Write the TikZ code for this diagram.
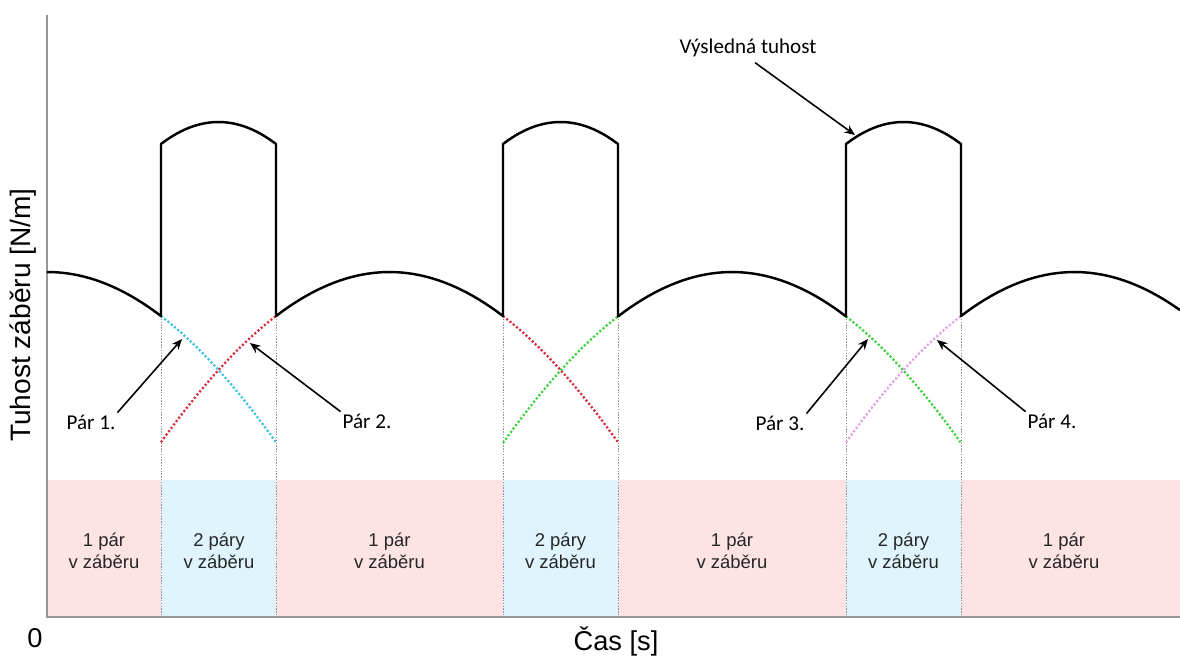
\documentclass[tikz,border=0pt]{standalone}
\usepackage{fontspec}
\setmainfont{Liberation Sans}
\newfontfamily\calibri{Carlito}
\usetikzlibrary{arrows.meta}

\definecolor{jedenpar}{RGB}{253,227,228}
\definecolor{dvapary}{RGB}{223,244,252}
\definecolor{osa}{RGB}{150,150,150}
\definecolor{par1}{RGB}{60,195,225}
\definecolor{par2}{RGB}{215,45,60}
\definecolor{par3}{RGB}{60,210,60}
\definecolor{par4}{RGB}{225,160,230}

% tuhost jednoho paru zubu (stred #1) a soucet dvou paru (stred #1)
\newcommand{\jeden}[1]{272+490*(1-cos(0.2156*(\x-#1)))}
\newcommand{\dva}[1]{122+22*((\x-#1)/57.5)^2}

\begin{document}
\begin{tikzpicture}[x=0.02cm, y=-0.02cm,
	vysledna/.style={line width=1.4pt, line join=round},
	krivka/.style={line width=1.3pt, dash pattern=on 1.2pt off 1.2pt},
	hranice/.style={osa, line width=0.5pt, dash pattern=on 0.8pt off 0.8pt},
	popis/.style={font=\fontsize{10.5}{12.5}\selectfont, align=center, text=black!85},
	parlabel/.style={font=\calibri\fontsize{12}{14}\selectfont, inner sep=1pt},
	sipka/.style={-{Stealth[length=6pt, width=5pt]}, line width=0.9pt}]
	\useasboundingbox (0,0) rectangle (1180,657);
	
	% pasy poctu paru v zaberu
	\foreach \a/\b/\barva in {47/161/jedenpar, 161/276/dvapary, 276/503/jedenpar,
		503/618/dvapary, 618/846/jedenpar, 846/961/dvapary, 961/1180/jedenpar}{
		\fill[\barva] (\a,480) rectangle (\b,617);
	}
	
	% hranice oblasti
	\foreach \x in {161, 276, 503, 618, 846, 961}{
		\draw[hranice] (\x,316) -- (\x,617);
	}
	
	% osy
	\draw[osa, line width=1.1pt] (47,15) -- (47,617) -- (1180,617);
	\node (nula) at (35,638) {\fontsize{15.5}{18}\selectfont 0};
	\node (cas) at (616,641) {\fontsize{15.5}{18}\selectfont Čas [s]};
	\node[rotate=90] (tuhost) at (23,315) {\fontsize{16}{19}\selectfont Tuhost záběru [N/m]};
	
	% tuhosti jednotlivych paru
	\draw[krivka, par1] plot[domain=161:276, samples=30] (\x,{\jeden{47.5}});
	\draw[krivka, par2] plot[domain=161:276, samples=30] (\x,{\jeden{389.5}});
	\draw[krivka, par2] plot[domain=503:618, samples=30] (\x,{\jeden{389.5}});
	\draw[krivka, par3] plot[domain=503:618, samples=30] (\x,{\jeden{732}});
	\draw[krivka, par3] plot[domain=846:961, samples=30] (\x,{\jeden{732}});
	\draw[krivka, par4] plot[domain=846:961, samples=30] (\x,{\jeden{1074.5}});
	
	% vysledna tuhost
	\draw[vysledna] plot[domain=47:161, samples=30] (\x,{\jeden{47.5}})
		-- plot[domain=161:276, samples=30] (\x,{\dva{218.5}})
		-- plot[domain=276:503, samples=40] (\x,{\jeden{389.5}})
		-- plot[domain=503:618, samples=30] (\x,{\dva{560.5}})
		-- plot[domain=618:846, samples=40] (\x,{\jeden{732}})
		-- plot[domain=846:961, samples=30] (\x,{\dva{903.5}})
		-- plot[domain=961:1180, samples=40] (\x,{\jeden{1074.5}});
	
	% popisy pasu
	\foreach \x/\n/\txt in {104/b1/1 pár, 219/b2/2 páry, 389.5/b3/1 pár, 560.5/b4/2 páry,
		732/b5/1 pár, 903.5/b6/2 páry, 1064/b7/1 pár}{
		\node[popis] (\n) at (\x,551) {\txt\\v záběru};
	}
	
	% popisy paru se sipkami
	\node[parlabel] (p1) at (91,422) {Pár 1.};
	\node[parlabel] (p2) at (367,421) {Pár 2.};
	\node[parlabel] (p3) at (780,423) {Pár 3.};
	\node[parlabel] (p4) at (1052,421) {Pár 4.};
	\node[parlabel] (vysl) at (748,48) {Výsledná tuhost};
	\coordinate (t1) at (182,339);
	\coordinate (t2) at (250,343);
	\coordinate (t3) at (868,339);
	\coordinate (t4) at (937,340);
	\coordinate (tv) at (855,135);
	\draw[sipka] (p1.north east) -- (t1);
	\draw[sipka] (p2.north west) -- (t2);
	\draw[sipka] (p3.north east) -- (t3);
	\draw[sipka] (p4.north west) -- (t4);
	\draw[sipka] ([xshift=4pt,yshift=-2pt]vysl.south) -- (tv);
\end{tikzpicture}
\end{document}
